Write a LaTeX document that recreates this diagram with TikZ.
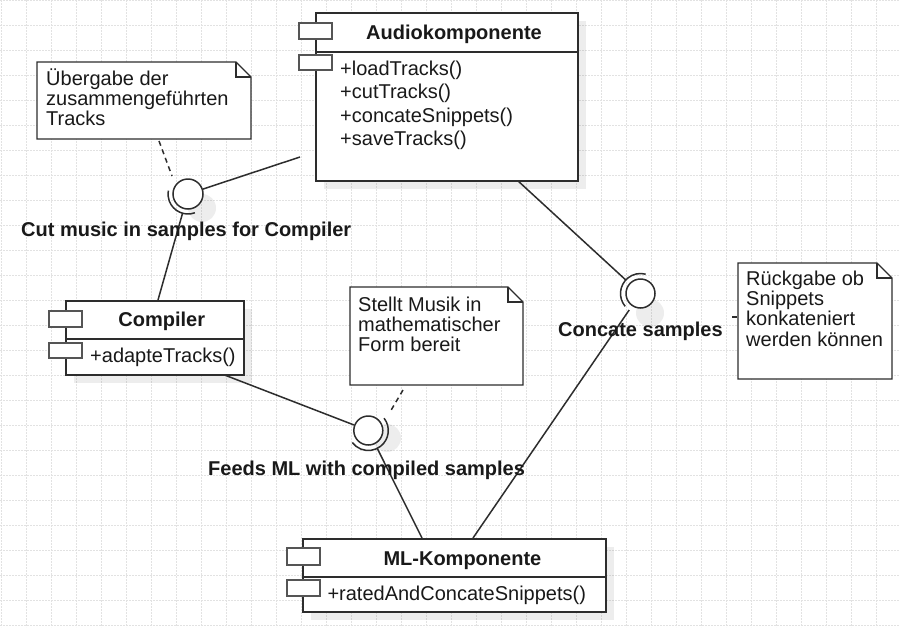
\documentclass[tikz,border=0pt]{standalone}
\usepackage{fontspec}
\setmainfont{Liberation Sans}
\usetikzlibrary{calc}
\definecolor{linec}{RGB}{45,45,45}
\definecolor{portc}{RGB}{85,85,85}
\definecolor{gridc}{RGB}{226,226,226}
\definecolor{textc}{RGB}{25,25,25}
\begin{document}
\begin{tikzpicture}[x=1pt,y=-1pt,
  every node/.style={text=textc},
  txt/.style={font=\fontsize{20}{20}\selectfont, inner sep=0pt, anchor=base west},
  ttl/.style={font=\fontsize{20}{20}\selectfont\bfseries, inner sep=0pt, anchor=base},
  lbl/.style={font=\fontsize{20}{20}\selectfont\bfseries, inner sep=0pt, anchor=base west},
  compbox/.style={draw=linec, line width=1.5pt, fill=white, inner sep=0pt, anchor=north west},
  boxline/.style={draw=linec, line width=1.5pt},
  portst/.style={draw=portc, line width=1.5pt, fill=white},
  notest/.style={draw=linec, line width=1.3pt, fill=white, line join=miter},
  ball/.style={circle, draw=linec, line width=1.5pt, fill=white, inner sep=0pt},
  sock/.style={draw=linec, line width=1.5pt},
  conn/.style={draw=linec, line width=1.5pt},
  dconn/.style={draw=linec, line width=1.5pt, dash pattern=on 5pt off 4pt},
  shad/.style={fill=black, opacity=0.07},
  gridl/.style={draw=gridc, line width=1pt, dash pattern=on 2pt off 1pt}
]
% background and grid
\fill[white] (0,0) rectangle (899,627);
\useasboundingbox (0,0) rectangle (899,627);
\foreach \x in {1,26,...,876} {\draw[gridl] (\x,0) -- (\x,627);}
\foreach \y in {0,25,...,625} {\draw[gridl] (0,\y) -- (899,\y);}

% shadows of components
\fill[shad] (324,21) rectangle (586,189);
\fill[shad] (74,309) rectangle (252,383);
\fill[shad] (311,547) rectangle (614,620);
% shadows of interfaces
\fill[shad] (202,208) circle[radius=14];
\fill[shad] (650,313) circle[radius=14];
\fill[shad] (387,438) circle[radius=14];

% ---------- connectors ----------
\coordinate (a1) at (300,157);
\coordinate (c1) at (158,300);
\coordinate (a2) at (517,180);
\coordinate (m2) at (473,538);
\coordinate (c3) at (222,374);
\coordinate (m3) at (422,538);

\node[ball, minimum size=30pt] (b1) at (188,194) {};
\node[ball, minimum size=29pt] (b2) at (640.5,293.5) {};
\node[ball, minimum size=29pt] (b3) at (368.3,430.5) {};

\draw[conn] (a1) -- (b1);
\draw[conn] ($(b1.center)!20pt!(c1)$) -- (c1);
\draw[conn] ($(b2.center)!20pt!(a2)$) -- (a2);
\draw[conn] ($(b2.center)!20pt!(m2)$) -- (m2);
\draw[conn] (c3) -- (b3);
\draw[conn] ($(b3.center)!20pt!(m3)$) -- (m3);

% sockets
\draw[sock] (b1.center) ++(70:20) arc[start angle=70, end angle=190, radius=20];
\draw[sock] (b2.center) ++(140:20) arc[start angle=140, end angle=285, radius=20];
\draw[sock] (b3.center) ++(-38:20) arc[start angle=-38, end angle=143, radius=20];

% ---------- Audiokomponente ----------
\node[compbox, minimum width=262pt, minimum height=168pt] (audio) at (315,12) {};
\draw[boxline] (315,52) -- (577,52);
\draw[portst] (299,23) rectangle (332,39);
\draw[portst] (299,55) rectangle (332,70);
\node[ttl] (audiot) at (454,39.3) {Audiokomponente};
\node[txt] (am1) at (340,75) {+loadTracks()};
\node[txt] (am2) at (340,98.5) {+cutTracks()};
\node[txt] (am3) at (340,122) {+concateSnippets()};
\node[txt] (am4) at (340,145.5) {+saveTracks()};

% ---------- Compiler ----------
\node[compbox, minimum width=178pt, minimum height=74pt] (comp) at (65,300) {};
\draw[boxline] (65,339) -- (243,339);
\draw[portst] (49,311) rectangle (82,327);
\draw[portst] (49,343) rectangle (82,358);
\node[ttl] (compt) at (161.7,326.7) {Compiler};
\node[txt] (cm1) at (90,362) {+adapteTracks()};

% ---------- ML-Komponente ----------
\node[compbox, minimum width=303pt, minimum height=73pt] (ml) at (302,538) {};
\draw[boxline] (302,577) -- (605,577);
\draw[portst] (287,548) rectangle (320,565);
\draw[portst] (287,580) rectangle (320,596);
\node[ttl] (mlt) at (462.4,565) {ML-Komponente};
\node[txt] (mlm1) at (327.3,600.7) {+ratedAndConcateSnippets()};

% ---------- notes ----------
\draw[notest] (37,62) -- (236,62) -- (251,77) -- (251,139) -- (37,139) -- cycle;
\draw[notest, fill=none] (236,62) -- (236,77) -- (251,77);
\node[txt] (n1a) at (46,85.7) {Übergabe der};
\node[txt] (n1b) at (46,105.7) {zusammengeführten};
\node[txt] (n1c) at (46,125.7) {Tracks};

\draw[notest] (350,287) -- (508,287) -- (523,302) -- (523,385) -- (350,385) -- cycle;
\draw[notest, fill=none] (508,287) -- (508,302) -- (523,302);
\node[txt] (n2a) at (358,311.7) {Stellt Musik in};
\node[txt] (n2b) at (358,331.7) {mathematischer};
\node[txt] (n2c) at (358,351.5) {Form bereit};

\draw[notest] (738,263) -- (877,263) -- (892,278) -- (892,379) -- (738,379) -- cycle;
\draw[notest, fill=none] (877,263) -- (877,278) -- (892,278);
\node[txt] (n3a) at (746,285) {Rückgabe ob};
\node[txt] (n3b) at (746,305.3) {Snippets};
\node[txt] (n3c) at (746,325.6) {konkateniert};
\node[txt] (n3d) at (746,346) {werden können};

% ---------- note links ----------
\coordinate (d1a) at (159,141);
\coordinate (d1b) at (172,176);
\draw[dconn] (d1a) -- (d1b);
\coordinate (d3a) at (403,390);
\coordinate (d3b) at (390,412);
\draw[dconn] (d3a) -- (d3b);
\coordinate (d2a) at (732,317);
\coordinate (d2b) at (737,317);
\draw[conn] (d2a) -- (d2b);

% ---------- interface labels ----------
\node[lbl] (l1) at (21,236) {Cut music in samples for Compiler};
\node[lbl] (l2) at (558,336.7) {Concate samples};
\node[lbl] (l3) at (208,475) {Feeds ML with compiled samples};
\end{tikzpicture}
\end{document}
